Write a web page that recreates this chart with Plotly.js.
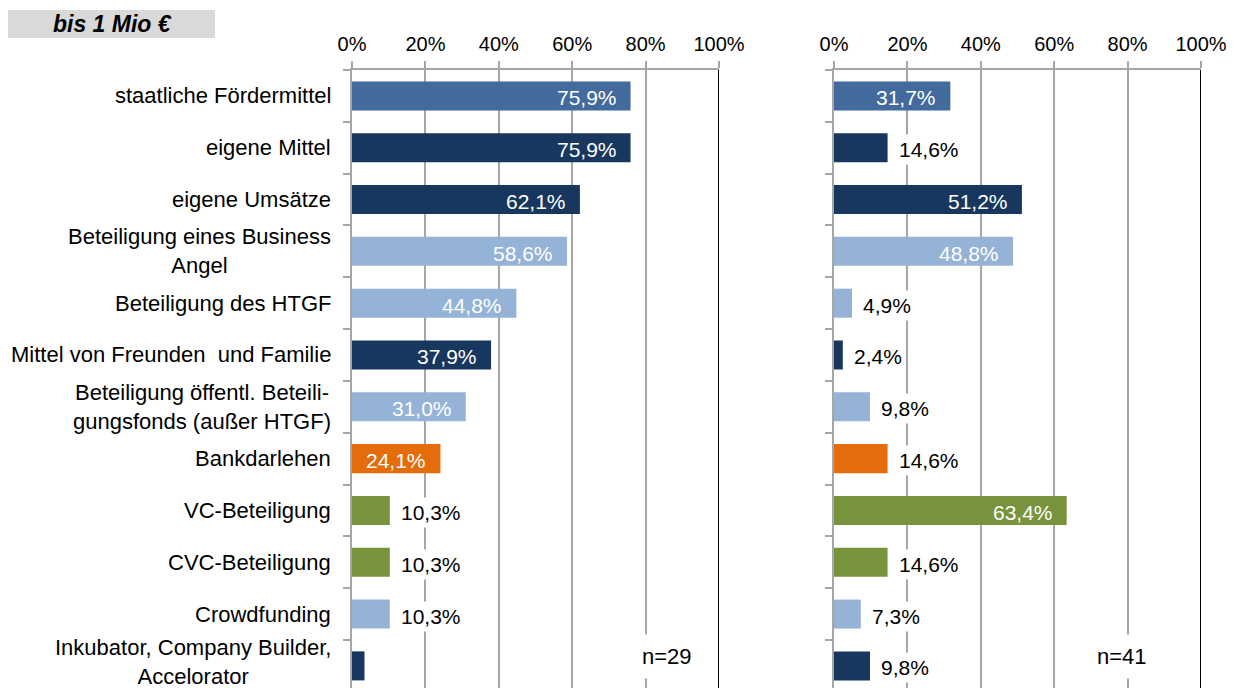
<!DOCTYPE html>
<html>
<head>
<meta charset="utf-8">
<script src="https://cdn.plot.ly/plotly-3.0.1.min.js"></script>
<style>html,body{margin:0;padding:0;background:#fff;}#chart{width:1239px;height:688px;}</style>
</head>
<body>
<div id="chart"></div>
<script>
// ---- data ----
var categories = [
  "staatliche Fördermittel",
  "eigene Mittel",
  "eigene Umsätze",
  "Beteiligung eines Business<br>Angel",
  "Beteiligung des HTGF",
  "Mittel von Freunden  und Familie",
  "Beteiligung öffentl. Beteili-<br>gungsfonds (außer HTGF)",
  "Bankdarlehen",
  "VC-Beteiligung",
  "CVC-Beteiligung",
  "Crowdfunding",
  "Inkubator, Company Builder,<br>Accelorator"
];
var leftValues  = [75.9, 75.9, 62.1, 58.6, 44.8, 37.9, 31.0, 24.1, 10.3, 10.3, 10.3, 3.4];
var leftLabels  = ["75,9%","75,9%","62,1%","58,6%","44,8%","37,9%","31,0%","24,1%","10,3%","10,3%","10,3%",""];
var rightValues = [31.7, 14.6, 51.2, 48.8, 4.9, 2.4, 9.8, 14.6, 63.4, 14.6, 7.3, 9.8];
var rightLabels = ["31,7%","14,6%","51,2%","48,8%","4,9%","2,4%","9,8%","14,6%","63,4%","14,6%","7,3%","9,8%"];
var tickValues  = [0, 20, 40, 60, 80, 100];
var tickLabels  = ["0%","20%","40%","60%","80%","100%"];
var titleText   = "bis 1 Mio €";
var leftN  = "n=29";
var rightN = "n=41";

// ---- styles ----
var MID = "#436A9C", NAVY = "#17375E", LIGHT = "#95B3D7", ORANGE = "#E46C0A", GREEN = "#77933C";
var barColors = [MID, NAVY, NAVY, LIGHT, LIGHT, NAVY, LIGHT, ORANGE, GREEN, GREEN, LIGHT, NAVY];
var FONT = "Liberation Sans, Arial, sans-serif";
var GRID = "#A6A6A6";
var W = 1239, H = 688;
function px(x){ return x / W; }
function py(y){ return 1 - y / H; }

var traces = [
  {type:"bar", orientation:"h", x:leftValues, y:categories, xaxis:"x", yaxis:"y",
   marker:{color:barColors}, width:0.56, hoverinfo:"none"},
  {type:"bar", orientation:"h", x:rightValues, y:categories, xaxis:"x2", yaxis:"y2",
   marker:{color:barColors}, width:0.56, hoverinfo:"none"}
];

function xAxis(d0, d1, anchor){
  return {domain:[px(d0), px(d1)], anchor:anchor, side:"top", range:[0,100],
    tickvals:tickValues, ticktext:tickLabels, showgrid:true, gridcolor:GRID, gridwidth:2,
    showline:true, linecolor:GRID, linewidth:2, ticks:"outside", ticklen:7, tickwidth:2,
    tickcolor:GRID, zeroline:false, fixedrange:true, ticklabelstandoff:2,
    tickfont:{family:FONT, size:20, color:"#000"}};
}
// plot runs from y=70 down past the bottom edge of the picture (the last row is cut off)
var nCat = categories.length;
function yAxis(anchor){
  return {domain:[0, py(70)], anchor:anchor, type:"category",
    range:[nCat - 0.5 - 3.8/51.8, -0.5],
    showline:true, linecolor:GRID, linewidth:2, ticks:"outside", tickson:"boundaries",
    ticklen:7, tickwidth:2, tickcolor:GRID, showticklabels:false, showgrid:false,
    zeroline:false, fixedrange:true};
}

var annotations = [];
// category labels
categories.forEach(function(c, i){
  annotations.push({xref:"paper", yref:"y", x:px(333), y:c, xanchor:"right", yanchor:"middle",
    yshift: (i === nCat - 1) ? 4 : 0,
    align:"center", text:c, showarrow:false, font:{family:FONT, size:22, color:"#000"}});
});
function addLabels(vals, labels, xr, yr){
  vals.forEach(function(v, i){
    if (!labels[i]) return;
    var inside = v > 20;
    annotations.push({xref:xr, yref:yr, x:v, y:categories[i], showarrow:false,
      xanchor: inside ? "right" : "left", yanchor:"middle",
      xshift: inside ? -12 : 7, yshift:-2, text:labels[i],
      bgcolor: inside ? "rgba(0,0,0,0)" : "#fff", borderpad: inside ? 1 : 3,
      font:{family:FONT, size:21, color: inside ? "#fff" : "#000"}});
  });
}
addLabels(leftValues, leftLabels, "x", "y");
addLabels(rightValues, rightLabels, "x2", "y2");
// n labels
annotations.push({xref:"x", yref:"paper", x:85.8, y:py(656), xanchor:"center", yanchor:"middle",
  showarrow:false, text:leftN, bgcolor:"#fff", borderpad:9, font:{family:FONT, size:22, color:"#000"}});
annotations.push({xref:"x2", yref:"paper", x:78.4, y:py(656), xanchor:"center", yanchor:"middle",
  showarrow:false, text:rightN, bgcolor:"#fff", borderpad:9, font:{family:FONT, size:22, color:"#000"}});
// title
annotations.push({xref:"paper", yref:"paper", x:px(112), y:py(24), xanchor:"center", yanchor:"middle",
  showarrow:false, text:"<b><i>" + titleText + "</i></b>", font:{family:FONT, size:23, color:"#000"}});

var shapes = [
  {type:"rect", xref:"paper", yref:"paper", x0:px(8), x1:px(215), y0:py(38), y1:py(10),
   fillcolor:"#D9D9D9", line:{width:0}, layer:"below"},
  {type:"line", xref:"x", yref:"paper", x0:100, x1:100, y0:0, y1:py(70), line:{color:"#000", width:2}},
  {type:"line", xref:"x2", yref:"paper", x0:100, x1:100, y0:0, y1:py(70), line:{color:"#000", width:2}}
];

var layout = {
  width:W, height:H, margin:{l:0, r:0, t:0, b:0},
  paper_bgcolor:"#fff", plot_bgcolor:"#fff", showlegend:false,
  xaxis:xAxis(352, 719, "y"), yaxis:yAxis("x"),
  xaxis2:xAxis(834, 1201, "y2"), yaxis2:yAxis("x2"),
  annotations:annotations, shapes:shapes
};

Plotly.newPlot("chart", traces, layout, {staticPlot:true, displayModeBar:false});
</script>
</body>
</html>
